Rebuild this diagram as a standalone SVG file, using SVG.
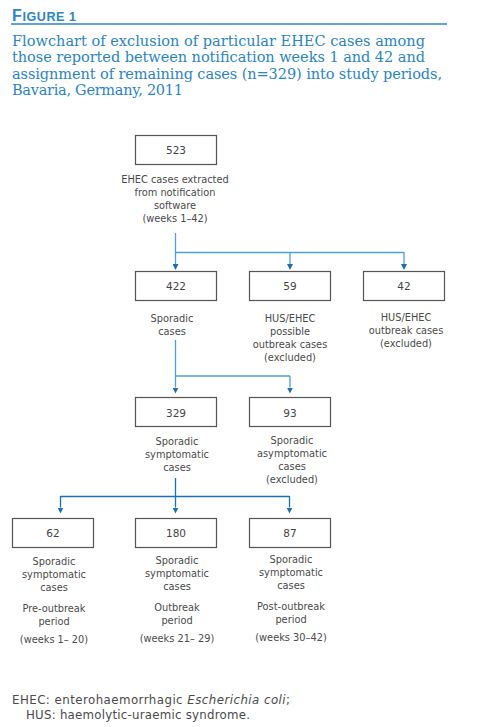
<svg xmlns="http://www.w3.org/2000/svg" width="478" height="727" viewBox="0 0 478 727">
<defs>
<style>
.box{fill:#fff;stroke:#555;stroke-width:1.2}
.num{font-family:"DejaVu Sans",sans-serif;font-size:10.5px;fill:#444;text-anchor:middle}
.lbl{font-family:"DejaVu Sans",sans-serif;font-size:9.8px;fill:#4a4a4a;text-anchor:middle}
.title{font-family:"DejaVu Serif",serif;font-size:14.5px;fill:#2a85c4}
.foot{font-family:"DejaVu Sans",sans-serif;font-size:11.8px;fill:#4a4a4a}
.c1{fill:none;stroke:#4fa0d6;stroke-width:1.3}
.c2{fill:none;stroke:#1a72b6;stroke-width:1.3}
</style>
<marker id="ah1" markerUnits="userSpaceOnUse" markerWidth="6" markerHeight="6" refX="0" refY="3" orient="auto">
<path d="M0,0 L6,3 L0,6 z" fill="#1c6fb0"/>
</marker>
<marker id="ah2" markerUnits="userSpaceOnUse" markerWidth="6" markerHeight="6" refX="0" refY="3" orient="auto">
<path d="M0,0 L6,3 L0,6 z" fill="#1a72b6"/>
</marker>
</defs>
<rect width="478" height="727" fill="#fff"/>

<g id="header">
<text x="12" y="20.5" font-family="Liberation Sans, Arial, sans-serif" font-weight="bold" fill="#2a85c4" letter-spacing="0.6"><tspan font-size="16">F</tspan><tspan font-size="12.5">IGURE 1</tspan></text>
<line x1="11" y1="24" x2="447" y2="24" stroke="#2a85c4" stroke-width="1.5"/>
<text class="title" x="12" y="45.5" textLength="413">Flowchart of exclusion of particular EHEC cases among</text>
<text class="title" x="12" y="62" textLength="413">those reported between notification weeks 1 and 42 and</text>
<text class="title" x="12" y="78.5" textLength="430">assignment of remaining cases (n=329) into study periods,</text>
<text class="title" x="12" y="95" textLength="171">Bavaria, Germany, 2011</text>
</g>

<g id="connectors">
<path class="c1" d="M175.5,233 V252.5 M175.5,252.5 H404"/>
<line class="c1" x1="175.5" y1="252" x2="175.5" y2="264" marker-end="url(#ah1)"/>
<line class="c1" x1="290" y1="252" x2="290" y2="264" marker-end="url(#ah1)"/>
<line class="c1" x1="404" y1="252" x2="404" y2="264" marker-end="url(#ah1)"/>
<path class="c1" d="M175.5,340 V376 M175.5,376 H290"/>
<line class="c1" x1="175.5" y1="376" x2="175.5" y2="387.5" marker-end="url(#ah1)"/>
<line class="c1" x1="290" y1="376" x2="290" y2="387.5" marker-end="url(#ah1)"/>
<path class="c2" d="M175.5,478 V496.5 M60.5,496.5 H289.5"/>
<line class="c2" x1="60.5" y1="496" x2="60.5" y2="507.5" marker-end="url(#ah2)"/>
<line class="c2" x1="175.5" y1="496" x2="175.5" y2="507.5" marker-end="url(#ah2)"/>
<line class="c2" x1="289.5" y1="496" x2="289.5" y2="507.5" marker-end="url(#ah2)"/>
</g>

<g id="n523">
<rect class="box" x="135.5" y="135.5" width="81" height="29"/>
<text class="num" x="176" y="154">523</text>
<text class="lbl" x="175" y="183">EHEC cases extracted</text>
<text class="lbl" x="175" y="196">from notification</text>
<text class="lbl" x="175" y="209">software</text>
<text class="lbl" x="175" y="222">(weeks 1–42)</text>
</g>

<g id="n422">
<rect class="box" x="135.5" y="271.5" width="81" height="29"/>
<text class="num" x="176" y="290">422</text>
<text class="lbl" x="172" y="322">Sporadic</text>
<text class="lbl" x="172" y="335">cases</text>
</g>

<g id="n59">
<rect class="box" x="249.5" y="271.5" width="81" height="29"/>
<text class="num" x="290" y="290">59</text>
<text class="lbl" x="290" y="322">HUS/EHEC</text>
<text class="lbl" x="290" y="335">possible</text>
<text class="lbl" x="290" y="348">outbreak cases</text>
<text class="lbl" x="290" y="361">(excluded)</text>
</g>

<g id="n42">
<rect class="box" x="363.5" y="271.5" width="81" height="29"/>
<text class="num" x="404" y="290">42</text>
<text class="lbl" x="406" y="321">HUS/EHEC</text>
<text class="lbl" x="406" y="334">outbreak cases</text>
<text class="lbl" x="406" y="347">(excluded)</text>
</g>

<g id="n329">
<rect class="box" x="135.5" y="397.5" width="81" height="29"/>
<text class="num" x="176" y="416.5">329</text>
<text class="lbl" x="177" y="445">Sporadic</text>
<text class="lbl" x="177" y="458">symptomatic</text>
<text class="lbl" x="177" y="471">cases</text>
</g>

<g id="n93">
<rect class="box" x="249.5" y="397.5" width="81" height="29"/>
<text class="num" x="290" y="416.5">93</text>
<text class="lbl" x="292" y="444">Sporadic</text>
<text class="lbl" x="292" y="457">asymptomatic</text>
<text class="lbl" x="292" y="470">cases</text>
<text class="lbl" x="292" y="483">(excluded)</text>
</g>

<g id="n62">
<rect class="box" x="12.5" y="518.5" width="81" height="29"/>
<text class="num" x="53" y="537">62</text>
<text class="lbl" x="54" y="565">Sporadic</text>
<text class="lbl" x="54" y="578">symptomatic</text>
<text class="lbl" x="54" y="591">cases</text>
<text class="lbl" x="54" y="612">Pre-outbreak</text>
<text class="lbl" x="54" y="625">period</text>
<text class="lbl" x="54" y="643">(weeks 1– 20)</text>
</g>

<g id="n180">
<rect class="box" x="135.5" y="518.5" width="81" height="29"/>
<text class="num" x="176" y="537">180</text>
<text class="lbl" x="177" y="564">Sporadic</text>
<text class="lbl" x="177" y="577">symptomatic</text>
<text class="lbl" x="177" y="590">cases</text>
<text class="lbl" x="177" y="611">Outbreak</text>
<text class="lbl" x="177" y="624">period</text>
<text class="lbl" x="177" y="642">(weeks 21– 29)</text>
</g>

<g id="n87">
<rect class="box" x="249.5" y="518.5" width="81" height="29"/>
<text class="num" x="290" y="537">87</text>
<text class="lbl" x="291" y="563">Sporadic</text>
<text class="lbl" x="291" y="576">symptomatic</text>
<text class="lbl" x="291" y="589">cases</text>
<text class="lbl" x="291" y="610">Post-outbreak</text>
<text class="lbl" x="291" y="623">period</text>
<text class="lbl" x="291" y="641">(weeks 30–42)</text>
</g>

<g id="footer">
<text class="foot" x="12" y="704" textLength="278">EHEC: enterohaemorrhagic <tspan font-style="italic">Escherichia coli</tspan>;</text>
<text class="foot" x="26" y="718.5" textLength="224">HUS: haemolytic-uraemic syndrome.</text>
</g>
</svg>
